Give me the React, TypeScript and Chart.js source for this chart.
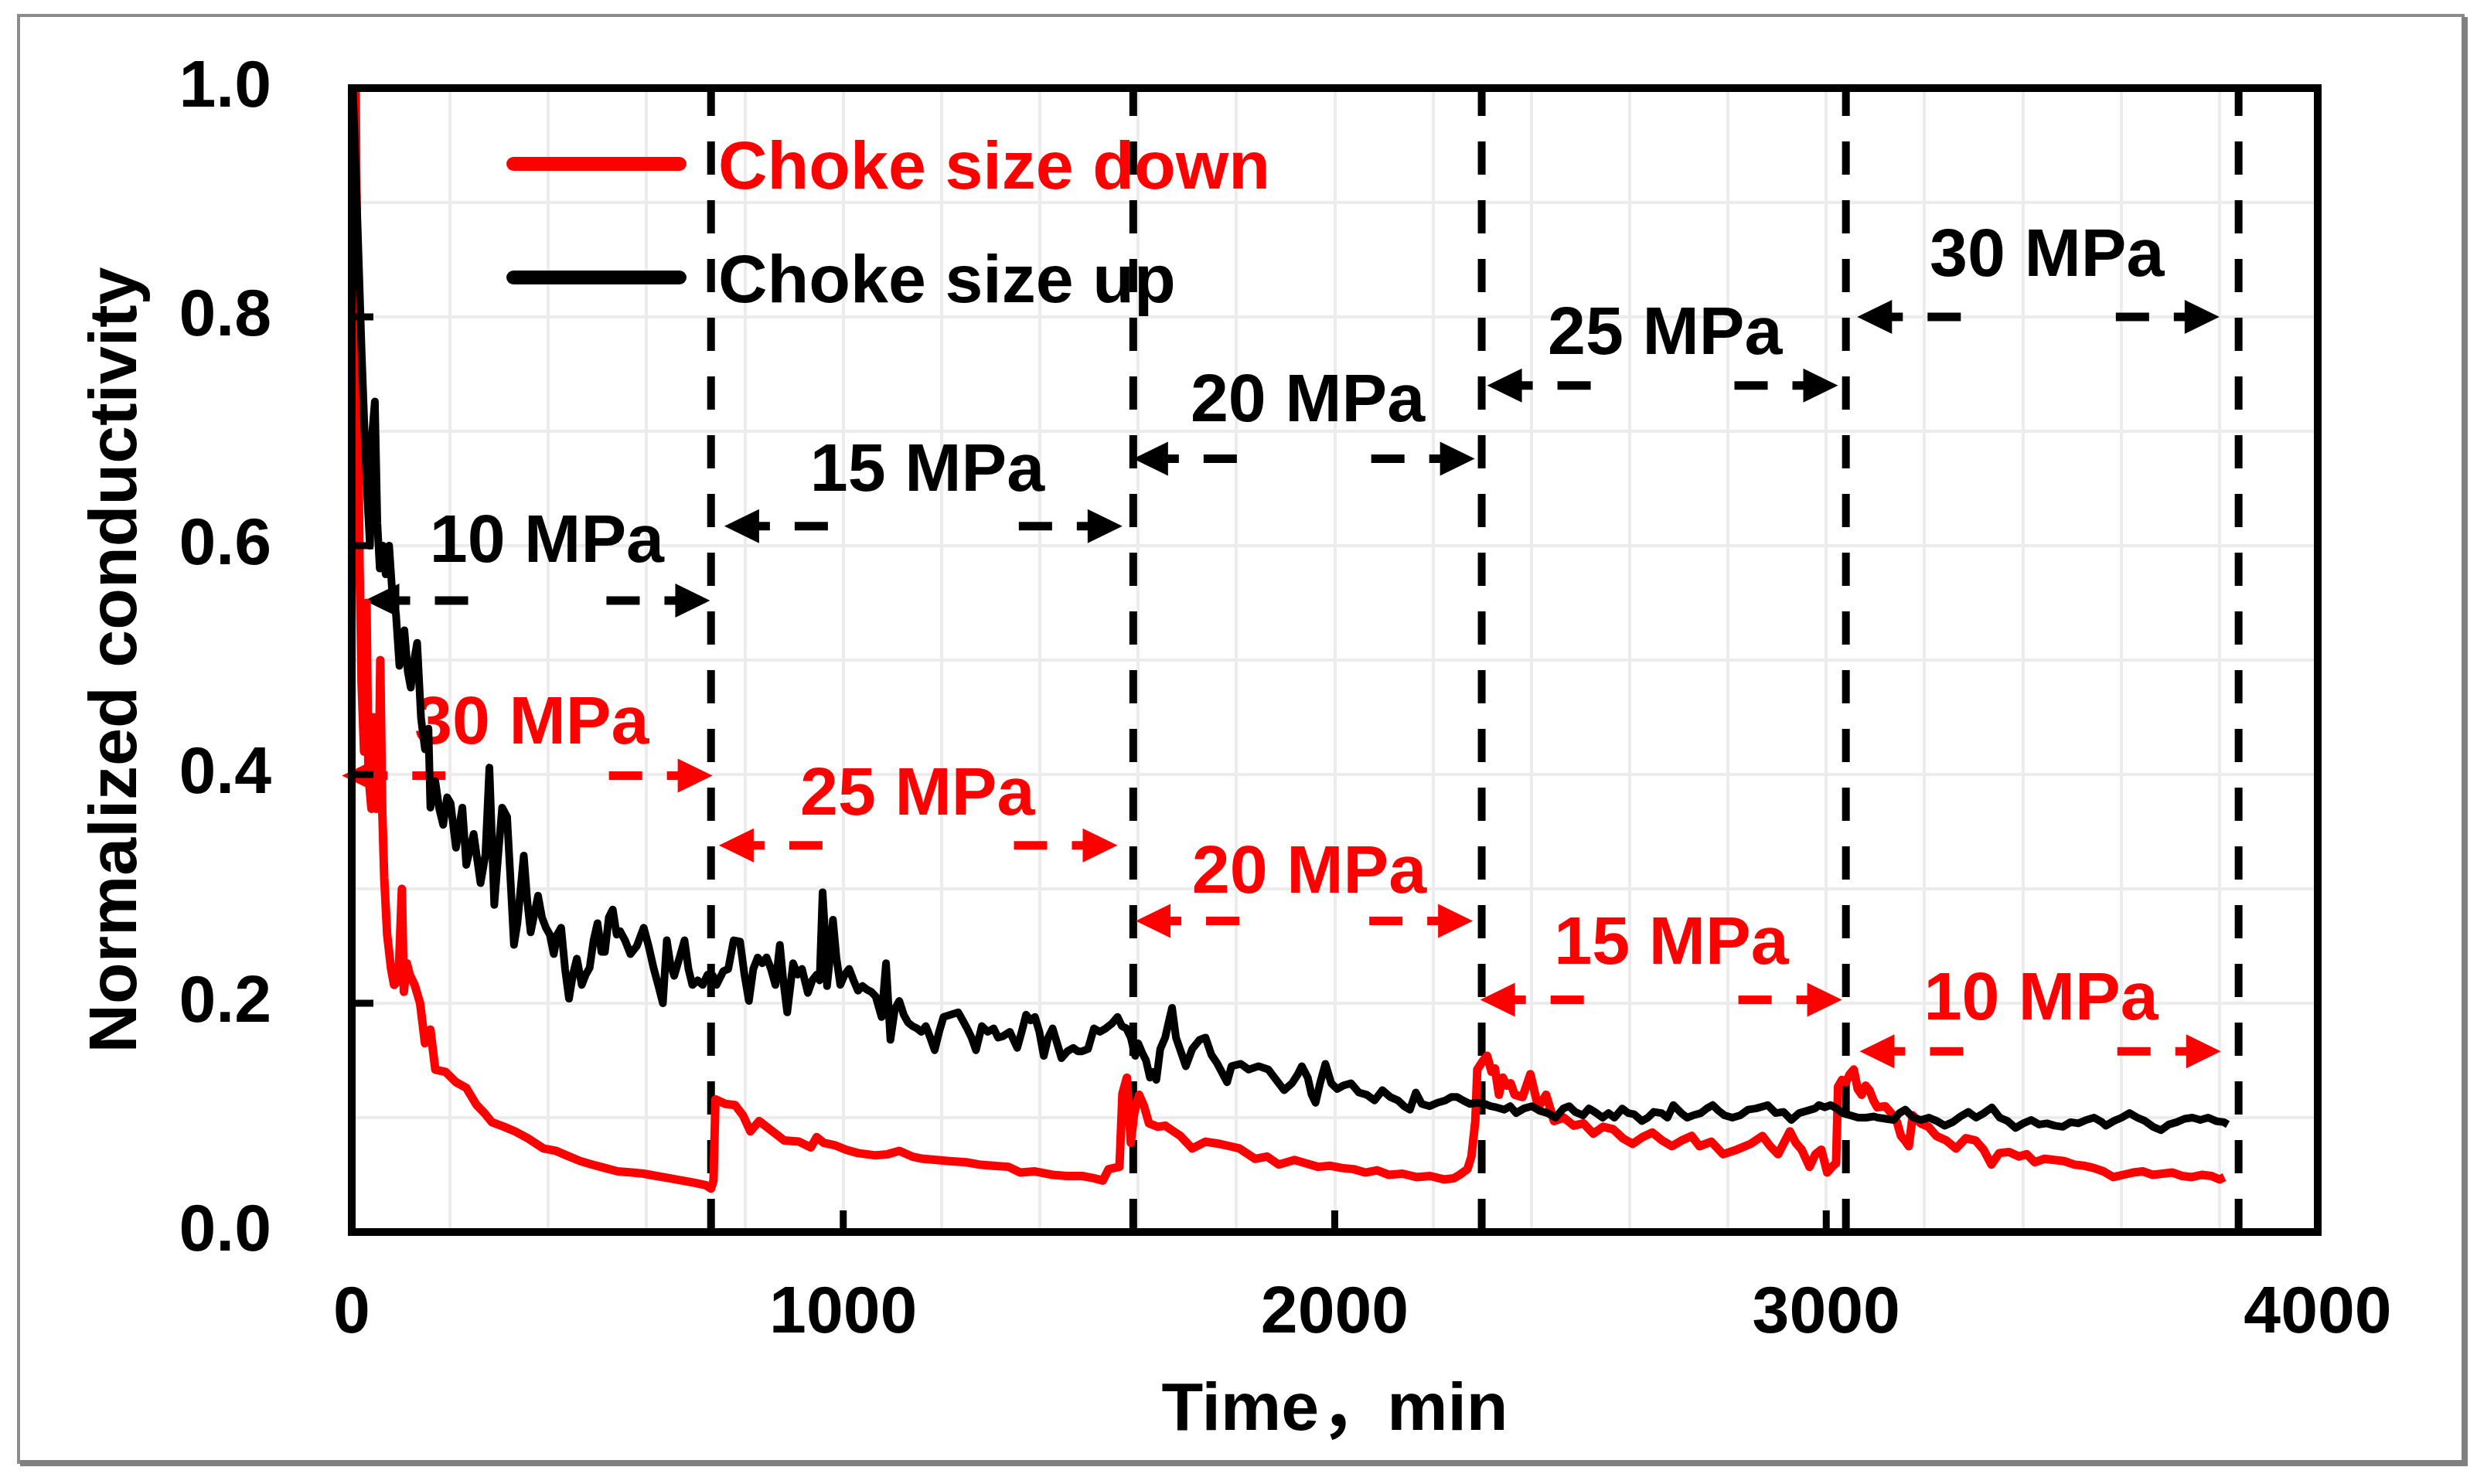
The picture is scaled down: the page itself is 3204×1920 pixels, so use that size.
import React, { useEffect, useRef } from "react";
import { Chart, registerables } from "chart.js";

Chart.register(...registerables);

const FONT = '"Liberation Sans", Arial, Helvetica, "Noto Sans CJK SC", sans-serif';

// [time (min), normalized conductivity]
const chokeDown: [number, number][] = [
  [3, 0.9], [8, 1.0], [12, 0.75], [16, 0.58], [20, 0.48], [25, 0.42], [30, 0.55], [34, 0.4],
  [40, 0.37], [44, 0.45], [50, 0.37], [55, 0.39], [58, 0.5], [62, 0.37], [66, 0.31], [72, 0.26],
  [80, 0.23], [86, 0.216], [95, 0.22], [102, 0.3], [106, 0.21], [112, 0.235], [118, 0.225],
  [128, 0.216], [139, 0.2], [149, 0.165], [160, 0.177], [170, 0.142], [191, 0.14], [212, 0.131],
  [233, 0.126], [254, 0.111], [270, 0.104], [285, 0.096], [310, 0.092], [332, 0.088], [358, 0.082],
  [390, 0.073], [415, 0.071], [437, 0.067], [465, 0.062], [489, 0.059], [515, 0.056], [541, 0.053],
  [570, 0.052], [594, 0.051], [620, 0.049], [646, 0.047], [672, 0.045], [698, 0.043], [720, 0.041],
  [731, 0.038], [736, 0.045], [740, 0.116], [760, 0.112], [780, 0.111], [796, 0.102], [811, 0.088],
  [829, 0.097], [850, 0.09], [865, 0.085], [880, 0.08], [910, 0.079], [934, 0.074], [946, 0.083],
  [960, 0.078], [982, 0.076], [1005, 0.072], [1030, 0.069], [1066, 0.067], [1090, 0.068],
  [1114, 0.071], [1140, 0.066], [1162, 0.064], [1190, 0.063], [1216, 0.062], [1250, 0.061],
  [1276, 0.059], [1305, 0.058], [1336, 0.057], [1360, 0.052], [1390, 0.053], [1426, 0.05],
  [1455, 0.049], [1486, 0.049], [1510, 0.047], [1528, 0.045], [1540, 0.055], [1562, 0.057],
  [1568, 0.121], [1577, 0.135], [1585, 0.078], [1592, 0.104], [1602, 0.12], [1612, 0.11],
  [1622, 0.095], [1640, 0.092], [1655, 0.093], [1672, 0.088], [1686, 0.084], [1710, 0.073],
  [1737, 0.079], [1766, 0.077], [1787, 0.075], [1806, 0.073], [1838, 0.064], [1862, 0.066],
  [1886, 0.059], [1918, 0.063], [1942, 0.06], [1966, 0.057], [1990, 0.058], [2014, 0.056],
  [2038, 0.055], [2062, 0.052], [2086, 0.054], [2110, 0.05], [2138, 0.051], [2166, 0.048],
  [2194, 0.049], [2222, 0.046], [2242, 0.047], [2254, 0.05], [2270, 0.055], [2278, 0.066],
  [2286, 0.097], [2290, 0.142], [2302, 0.15], [2310, 0.154], [2319, 0.14], [2326, 0.143],
  [2334, 0.12], [2342, 0.135], [2350, 0.128], [2358, 0.13], [2366, 0.12], [2382, 0.118],
  [2398, 0.138], [2414, 0.109], [2430, 0.12], [2446, 0.097], [2466, 0.1], [2486, 0.093],
  [2506, 0.095], [2526, 0.086], [2546, 0.092], [2566, 0.09], [2586, 0.082], [2606, 0.077],
  [2626, 0.083], [2646, 0.087], [2666, 0.08], [2686, 0.075], [2706, 0.08], [2726, 0.084],
  [2742, 0.075], [2766, 0.079], [2790, 0.068], [2818, 0.072], [2846, 0.077], [2870, 0.084],
  [2886, 0.075], [2902, 0.068], [2926, 0.088], [2938, 0.078], [2950, 0.072], [2966, 0.057],
  [2978, 0.068], [2990, 0.072], [3002, 0.052], [3014, 0.058], [3020, 0.06], [3024, 0.127],
  [3032, 0.133], [3040, 0.131], [3048, 0.138], [3056, 0.142], [3064, 0.125], [3072, 0.12],
  [3080, 0.128], [3088, 0.124], [3096, 0.115], [3104, 0.109], [3120, 0.11], [3136, 0.102],
  [3144, 0.096], [3152, 0.084], [3160, 0.08], [3168, 0.075], [3176, 0.102], [3192, 0.095],
  [3208, 0.092], [3224, 0.084], [3244, 0.08], [3264, 0.073], [3284, 0.082], [3304, 0.08],
  [3320, 0.072], [3336, 0.059], [3352, 0.069], [3372, 0.07], [3392, 0.066], [3408, 0.068],
  [3424, 0.061], [3444, 0.064], [3464, 0.063], [3484, 0.062], [3504, 0.059], [3524, 0.058],
  [3544, 0.056], [3564, 0.053], [3584, 0.048], [3604, 0.05], [3624, 0.052], [3644, 0.053],
  [3664, 0.05], [3684, 0.051], [3704, 0.052], [3724, 0.049], [3744, 0.048], [3764, 0.05],
  [3784, 0.049], [3800, 0.046], [3810, 0.048],
];

const chokeUp: [number, number][] = [
  [2, 1.0], [8, 0.93], [14, 0.85], [20, 0.77], [26, 0.7], [32, 0.64], [37, 0.6], [42, 0.7],
  [47, 0.726], [52, 0.62], [57, 0.58], [63, 0.6], [69, 0.575], [76, 0.6], [83, 0.555], [90, 0.54],
  [97, 0.495], [107, 0.526], [114, 0.49], [120, 0.476], [127, 0.5], [133, 0.515], [141, 0.449],
  [149, 0.422], [156, 0.44], [160, 0.371], [170, 0.394], [178, 0.37], [186, 0.356], [194, 0.38],
  [201, 0.375], [212, 0.336], [225, 0.371], [233, 0.321], [248, 0.348], [262, 0.305], [272, 0.33],
  [280, 0.406], [290, 0.286], [298, 0.33], [306, 0.371], [316, 0.363], [324, 0.3], [330, 0.251],
  [337, 0.27], [350, 0.329], [357, 0.29], [364, 0.262], [379, 0.294], [387, 0.275], [395, 0.266],
  [403, 0.26], [411, 0.243], [418, 0.26], [426, 0.266], [434, 0.23], [442, 0.204], [450, 0.225],
  [458, 0.239], [468, 0.216], [476, 0.225], [484, 0.231], [492, 0.255], [500, 0.27], [508, 0.245],
  [515, 0.245], [523, 0.275], [531, 0.282], [539, 0.26], [546, 0.263], [556, 0.255], [567, 0.243],
  [580, 0.25], [594, 0.266], [604, 0.25], [614, 0.231], [624, 0.215], [633, 0.2], [641, 0.255],
  [648, 0.235], [656, 0.224], [667, 0.24], [677, 0.255], [685, 0.23], [693, 0.216], [704, 0.22],
  [714, 0.216], [724, 0.225], [735, 0.224], [742, 0.216], [756, 0.228], [766, 0.23], [777, 0.255],
  [790, 0.254], [799, 0.225], [808, 0.202], [817, 0.23], [826, 0.24], [835, 0.235], [844, 0.24],
  [853, 0.23], [862, 0.216], [871, 0.251], [878, 0.22], [886, 0.192], [898, 0.235], [907, 0.225],
  [916, 0.23], [928, 0.209], [937, 0.22], [946, 0.225], [952, 0.22], [958, 0.297], [963, 0.26],
  [967, 0.215], [973, 0.24], [979, 0.273], [986, 0.24], [994, 0.216], [1003, 0.225], [1012, 0.23],
  [1021, 0.22], [1030, 0.211], [1039, 0.215], [1048, 0.212], [1057, 0.21], [1066, 0.206],
  [1078, 0.188], [1087, 0.235], [1096, 0.168], [1105, 0.195], [1114, 0.202], [1123, 0.19],
  [1132, 0.183], [1141, 0.18], [1150, 0.178], [1159, 0.175], [1168, 0.18], [1177, 0.17],
  [1186, 0.159], [1195, 0.175], [1204, 0.188], [1219, 0.19], [1234, 0.192], [1243, 0.185],
  [1252, 0.178], [1261, 0.17], [1270, 0.159], [1282, 0.18], [1294, 0.175], [1306, 0.178],
  [1315, 0.17], [1324, 0.171], [1339, 0.175], [1354, 0.161], [1363, 0.175], [1372, 0.19],
  [1381, 0.185], [1390, 0.188], [1399, 0.175], [1408, 0.154], [1417, 0.17], [1426, 0.178],
  [1435, 0.165], [1444, 0.152], [1456, 0.158], [1468, 0.161], [1477, 0.158], [1486, 0.158],
  [1498, 0.16], [1510, 0.178], [1522, 0.175], [1534, 0.178], [1546, 0.182], [1558, 0.188],
  [1567, 0.18], [1576, 0.178], [1585, 0.17], [1594, 0.154], [1600, 0.165], [1609, 0.156],
  [1616, 0.15], [1624, 0.135], [1630, 0.14], [1637, 0.133], [1645, 0.16], [1655, 0.17],
  [1663, 0.185], [1669, 0.196], [1677, 0.17], [1685, 0.16], [1697, 0.145], [1710, 0.16],
  [1725, 0.168], [1737, 0.17], [1749, 0.155], [1760, 0.148], [1770, 0.14], [1781, 0.131],
  [1790, 0.145], [1809, 0.147], [1825, 0.142], [1845, 0.145], [1865, 0.142], [1881, 0.133],
  [1897, 0.124], [1913, 0.13], [1925, 0.138], [1933, 0.145], [1945, 0.135], [1953, 0.12],
  [1961, 0.113], [1970, 0.13], [1981, 0.147], [1993, 0.13], [2005, 0.125], [2017, 0.128],
  [2033, 0.13], [2049, 0.122], [2065, 0.12], [2081, 0.115], [2097, 0.124], [2113, 0.118],
  [2129, 0.115], [2141, 0.11], [2153, 0.107], [2165, 0.122], [2177, 0.112], [2193, 0.11],
  [2209, 0.113], [2225, 0.115], [2237, 0.118], [2249, 0.118], [2261, 0.115], [2275, 0.112],
  [2289, 0.113], [2305, 0.112], [2317, 0.11], [2329, 0.109], [2345, 0.107], [2357, 0.11],
  [2369, 0.104], [2385, 0.108], [2401, 0.11], [2417, 0.106], [2433, 0.104], [2449, 0.1],
  [2465, 0.108], [2477, 0.11], [2489, 0.105], [2505, 0.102], [2517, 0.108], [2529, 0.105],
  [2545, 0.1], [2557, 0.104], [2569, 0.1], [2585, 0.108], [2597, 0.104], [2609, 0.103],
  [2625, 0.097], [2637, 0.1], [2649, 0.105], [2665, 0.104], [2677, 0.1], [2689, 0.111],
  [2705, 0.104], [2717, 0.1], [2729, 0.102], [2745, 0.104], [2757, 0.108], [2769, 0.111],
  [2781, 0.106], [2793, 0.102], [2809, 0.1], [2825, 0.102], [2841, 0.107], [2857, 0.108],
  [2873, 0.11], [2881, 0.111], [2897, 0.104], [2913, 0.105], [2929, 0.098], [2945, 0.104],
  [2961, 0.106], [2977, 0.108], [2985, 0.111], [2997, 0.109], [3009, 0.111], [3021, 0.108],
  [3033, 0.104], [3049, 0.102], [3065, 0.1], [3081, 0.1], [3097, 0.101], [3105, 0.1],
  [3121, 0.099], [3137, 0.098], [3149, 0.104], [3161, 0.107], [3177, 0.1], [3193, 0.098],
  [3209, 0.1], [3225, 0.097], [3241, 0.093], [3257, 0.096], [3273, 0.101], [3289, 0.105],
  [3305, 0.1], [3321, 0.104], [3337, 0.109], [3353, 0.1], [3369, 0.097], [3385, 0.091],
  [3401, 0.095], [3417, 0.098], [3433, 0.094], [3449, 0.095], [3465, 0.093], [3481, 0.092],
  [3497, 0.096], [3513, 0.095], [3529, 0.098], [3545, 0.1], [3561, 0.096], [3569, 0.093],
  [3585, 0.097], [3601, 0.1], [3617, 0.104], [3633, 0.1], [3649, 0.097], [3665, 0.092],
  [3681, 0.089], [3697, 0.094], [3713, 0.096], [3729, 0.099], [3745, 0.1], [3761, 0.098],
  [3777, 0.1], [3793, 0.097], [3809, 0.096], [3817, 0.094],
];

// stage boundaries (dashed vertical lines), min
const stageBounds = [731, 1590, 2299, 3040, 3839];

// choke size up stages (black)
const upLabels = ["10 MPa", "15 MPa", "20 MPa", "25 MPa", "30 MPa"];
const upLabelX = [397, 1171, 1945, 2672, 3449];
const upLabelY = [0.607, 0.669, 0.73, 0.789, 0.857];
const upArrowFrom = [26, 758, 1590, 2310, 3063];
const upArrowTo = [729, 1568, 2285, 3024, 3800];
const upArrowY = [0.552, 0.617, 0.676, 0.74, 0.8];

// choke size down stages (red)
const downLabels = ["30 MPa", "25 MPa", "20 MPa", "15 MPa", "10 MPa"];
const downLabelX = [366, 1151, 1948, 2685, 3437];
const downLabelY = [0.448, 0.386, 0.318, 0.256, 0.207];
const downArrowFrom = [-20, 747, 1595, 2296, 3068];
const downArrowTo = [734, 1558, 2281, 3032, 3803];
const downArrowY = [0.399, 0.338, 0.272, 0.203, 0.158];

const RED = "#ff0000";
const BLACK = "#000000";

function drawArrow(ctx: CanvasRenderingContext2D, x1: number, x2: number, y: number, color: string) {
  const head = 45, half = 22, stub = 14, gap = 32, dash = 43;
  ctx.save();
  ctx.fillStyle = color;
  ctx.strokeStyle = color;
  ctx.lineWidth = 11;
  ctx.lineCap = "butt";
  ctx.beginPath();
  ctx.moveTo(x1, y);
  ctx.lineTo(x1 + head, y - half);
  ctx.lineTo(x1 + head, y + half);
  ctx.closePath();
  ctx.moveTo(x2, y);
  ctx.lineTo(x2 - head, y - half);
  ctx.lineTo(x2 - head, y + half);
  ctx.closePath();
  ctx.fill();
  const segs = [
    [x1 + head - 2, x1 + head + stub],
    [x1 + head + stub + gap, x1 + head + stub + gap + dash],
    [x2 - head - stub - gap - dash, x2 - head - stub - gap],
    [x2 - head - stub, x2 - head + 2],
  ];
  ctx.beginPath();
  for (const [a, b] of segs) {
    ctx.moveTo(a, y);
    ctx.lineTo(b, y);
  }
  ctx.stroke();
  ctx.restore();
}

function drawLabel(ctx: CanvasRenderingContext2D, text: string, x: number, yCenter: number, color: string) {
  ctx.save();
  ctx.font = `bold 88px ${FONT}`;
  ctx.fillStyle = color;
  ctx.textAlign = "center";
  ctx.textBaseline = "alphabetic";
  ctx.fillText(text, x, yCenter + 0.358 * 88);
  ctx.restore();
}

const decorPlugin = {
  id: "decor",
  beforeDraw(chart: Chart) {
    const { ctx, width, height } = chart;
    ctx.save();
    ctx.fillStyle = "#ffffff";
    ctx.fillRect(0, 0, width, height);
    // outer chart-area frame with a slight shadow on right/bottom
    ctx.strokeStyle = "#8c8c8c";
    ctx.lineWidth = 4;
    ctx.strokeRect(24, 20, 3162, 1872);
    ctx.fillStyle = "#808080";
    ctx.fillRect(26, 1889, 3166, 8);
    ctx.fillRect(3184, 22, 8, 1875);
    ctx.restore();
  },
  beforeDatasetsDraw(chart: Chart) {
    const { ctx } = chart;
    const xs = chart.scales.x;
    const ys = chart.scales.y;
    ctx.save();
    // stage boundaries
    ctx.strokeStyle = BLACK;
    ctx.lineWidth = 10;
    ctx.setLineDash([43, 33]);
    for (const t of stageBounds) {
      const px = xs.getPixelForValue(t);
      ctx.beginPath();
      ctx.moveTo(px, ys.getPixelForValue(0));
      ctx.lineTo(px, ys.getPixelForValue(1));
      ctx.stroke();
    }
    ctx.setLineDash([]);
    ctx.restore();

    upLabels.forEach((txt, i) => {
      drawLabel(ctx, txt, xs.getPixelForValue(upLabelX[i]), ys.getPixelForValue(upLabelY[i]), BLACK);
      drawArrow(ctx, xs.getPixelForValue(upArrowFrom[i]), xs.getPixelForValue(upArrowTo[i]), ys.getPixelForValue(upArrowY[i]), BLACK);
    });
    downLabels.forEach((txt, i) => {
      drawLabel(ctx, txt, xs.getPixelForValue(downLabelX[i]), ys.getPixelForValue(downLabelY[i]), RED);
      drawArrow(ctx, xs.getPixelForValue(downArrowFrom[i]), xs.getPixelForValue(downArrowTo[i]), ys.getPixelForValue(downArrowY[i]), RED);
    });
  },
  afterDatasetsDraw(chart: Chart) {
    const { ctx, chartArea } = chart;
    const { left, top, right, bottom } = chartArea;
    const xs = chart.scales.x;
    const ys = chart.scales.y;
    ctx.save();
    // inward tick marks
    ctx.strokeStyle = BLACK;
    ctx.lineWidth = 9;
    ctx.beginPath();
    for (const v of [0.2, 0.4, 0.6, 0.8]) {
      const py = ys.getPixelForValue(v);
      ctx.moveTo(left, py);
      ctx.lineTo(left + 28, py);
    }
    for (const v of [1000, 2000, 3000]) {
      const px = xs.getPixelForValue(v);
      ctx.moveTo(px, bottom);
      ctx.lineTo(px, bottom - 28);
    }
    ctx.stroke();
    // plot frame
    ctx.lineWidth = 10;
    ctx.strokeRect(left, top, right - left, bottom - top);

    // legend
    const items = chart.data.datasets.map((d) => ({ label: d.label as string, color: d.borderColor as string }));
    const order = [items.find((d) => d.color === RED), items.find((d) => d.color === BLACK)];
    order.forEach((it, i) => {
      if (!it) return;
      const cy = top + 98 + i * 147;
      ctx.strokeStyle = it.color;
      ctx.lineWidth = 18;
      ctx.lineCap = "round";
      ctx.beginPath();
      ctx.moveTo(left + 209, cy);
      ctx.lineTo(left + 424, cy);
      ctx.stroke();
      ctx.font = `bold 88px ${FONT}`;
      ctx.fillStyle = it.color;
      ctx.textAlign = "left";
      ctx.textBaseline = "alphabetic";
      ctx.fillText(it.label, left + 474, cy + 0.358 * 88);
    });
    ctx.restore();
  },
};

const App: React.FC = () => {
  const canvasRef = useRef<HTMLCanvasElement | null>(null);
  const chartRef = useRef<Chart | null>(null);

  useEffect(() => {
    if (!canvasRef.current) return;
    const ctx = canvasRef.current.getContext("2d");
    if (!ctx) return;

    chartRef.current = new Chart(ctx, {
      type: "line",
      data: {
        datasets: [
          {
            label: "Choke size up",
            data: chokeUp.map(([x, y]) => ({ x, y })),
            borderColor: BLACK,
            borderWidth: 10,
            pointRadius: 0,
            tension: 0,
            borderJoinStyle: "round",
            order: 0,
          },
          {
            label: "Choke size down",
            data: chokeDown.map(([x, y]) => ({ x, y })),
            borderColor: RED,
            borderWidth: 11,
            pointRadius: 0,
            tension: 0,
            borderJoinStyle: "round",
            order: 1,
          },
        ],
      },
      options: {
        responsive: false,
        animation: false,
        devicePixelRatio: 1,
        events: [],
        layout: { padding: { top: 114, right: 206, left: 0, bottom: 0 } },
        plugins: { legend: { display: false }, tooltip: { enabled: false } },
        scales: {
          x: {
            type: "linear",
            min: 0,
            max: 4000,
            afterFit: (s: any) => {
              s.height = 326;
              s.paddingLeft = 0;
              s.paddingRight = 0;
            },
            border: { display: false },
            grid: { color: "#ececec", lineWidth: 4, drawTicks: false },
            ticks: {
              stepSize: 200,
              autoSkip: false,
              maxRotation: 0,
              padding: 55,
              color: BLACK,
              font: { family: FONT, size: 86, weight: "bold" },
              callback: (v) => (Number(v) % 1000 === 0 ? String(v) : ""),
            },
            title: {
              display: true,
              text: "Time，min",
              color: BLACK,
              font: { family: '"Liberation Sans", "Noto Sans CJK SC", sans-serif', size: 88, weight: "bold" },
              padding: { top: 0, bottom: 41 },
            },
          },
          y: {
            type: "linear",
            min: 0,
            max: 1,
            afterFit: (s: any) => {
              s.width = 455;
              s.paddingTop = 0;
              s.paddingBottom = 0;
            },
            border: { display: false },
            grid: { color: "#ececec", lineWidth: 4, drawTicks: false },
            ticks: {
              stepSize: 0.1,
              autoSkip: false,
              padding: 104,
              color: BLACK,
              font: { family: FONT, size: 86, weight: "bold" },
              callback: (v) => (Math.round(Number(v) * 10) % 2 === 0 ? Number(v).toFixed(1) : ""),
            },
            title: {
              display: true,
              text: "Normalized conductivity",
              color: BLACK,
              font: { family: FONT, size: 88, weight: "bold" },
              padding: { top: 99, bottom: 0 },
            },
          },
        },
      },
      plugins: [decorPlugin],
    });

    return () => {
      if (chartRef.current) {
        chartRef.current.destroy();
        chartRef.current = null;
      }
    };
  }, []);

  return (
    <div style={{ position: "absolute", left: 0, top: 0, width: 3204, height: 1920, background: "#fff" }}>
      <canvas ref={canvasRef} width={3204} height={1920} style={{ width: 3204, height: 1920 }} />
    </div>
  );
};

export default App;
